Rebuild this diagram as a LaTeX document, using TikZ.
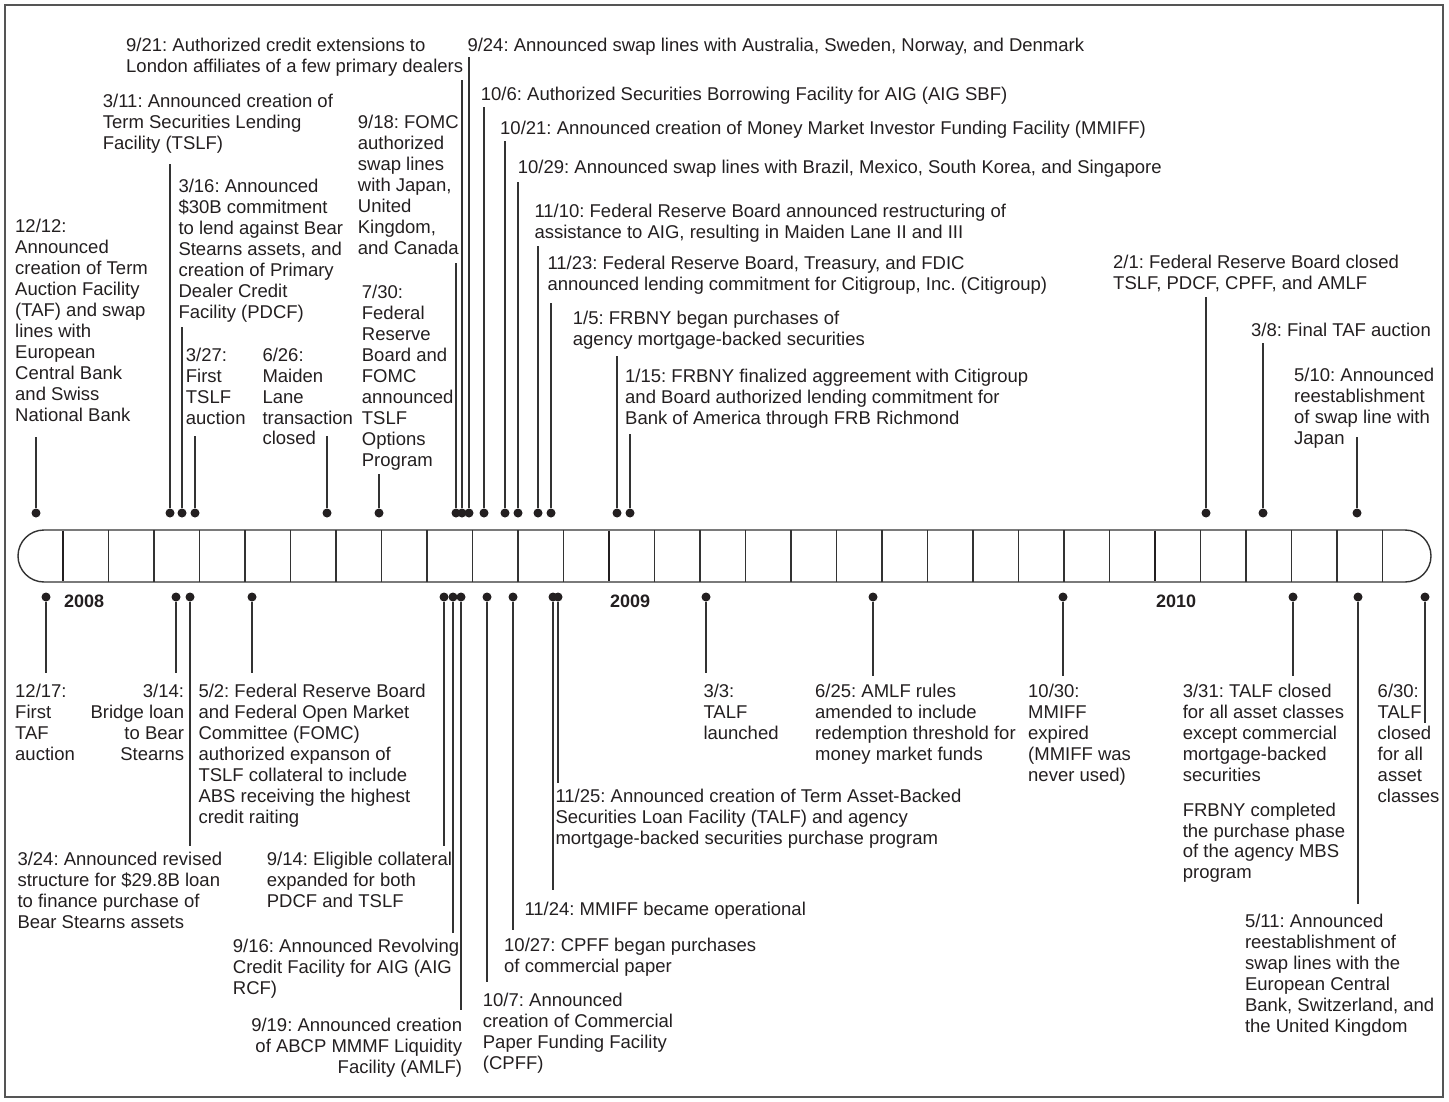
\documentclass[tikz,border=0pt]{standalone}
\usepackage{fontspec}
\setmainfont{Liberation Sans}
\frenchspacing
\definecolor{ink}{HTML}{231F20}
\definecolor{lin}{HTML}{333333}
\definecolor{frm}{HTML}{555555}
\newcommand\evfont{\fontsize{18.5}{20.9}\selectfont\frenchspacing}
\newcommand\topev[3]{\node[dot] (d#1) at (#2,513) {}; \coordinate (e#1) at (#2,#3); \draw[conn] (d#1) -- (e#1);}
\newcommand\botev[3]{\node[dot] (d#1) at (#2,597) {}; \coordinate (e#1) at (#2,#3); \draw[conn] (d#1) -- (e#1);}
\begin{document}
\begin{tikzpicture}[x=1pt,y=-1pt,
  ev/.style={font=\evfont, text=ink, align=left, inner sep=0pt, anchor=north west, execute at begin node={\rule{0pt}{14pt}}},
  evr/.style={ev, align=right, anchor=north east},
  dot/.style={circle, fill=ink, draw=none, minimum size=9pt, inner sep=0pt},
  conn/.style={draw=lin, line width=1.3pt},
  bar/.style={draw=lin, line width=1.4pt},
  tick/.style={draw=lin, line width=1.2pt},
  yeartick/.style={draw=ink, line width=2.6pt},
  yearlab/.style={font=\fontsize{18}{20}\selectfont\bfseries, text=ink, inner sep=0pt, anchor=base west}]
\useasboundingbox (0,0) rectangle (1449,1102);
\draw[draw=frm, line width=1.3pt] (5,5) rectangle (1443,1097);

% timeline bar
\draw[bar] (44,530) -- (1405,530) arc[start angle=90,end angle=-90,radius=26pt] -- (44,582) arc[start angle=270,end angle=90,radius=26pt] -- cycle;
\foreach \k in {1,...,11,13,14,...,23,25,26,27,28,29} {
  \draw[tick] ({63+\k*45.5},530) -- ({63+\k*45.5},582);
}
\foreach \k in {0,12,24} {
  \draw[yeartick] ({63+\k*45.5},530.7) -- ({63+\k*45.5},581.3);
}
\node[yearlab] (y2008) at (64,607.3) {2008};
\node[yearlab] (y2009) at (610,607.3) {2009};
\node[yearlab] (y2010) at (1156,607.3) {2010};

% top events
\topev{1212}{36}{437}
\topev{0311}{170}{164}
\topev{0316}{182}{327}
\topev{0327}{195}{436}
\topev{0626}{327}{436}
\topev{0730}{379}{474}
\topev{0918}{456}{263}
\topev{0921}{462}{80}
\topev{0924}{469}{57}
\topev{1006}{484}{107}
\topev{1021}{505}{141}
\topev{1029}{518}{182}
\topev{1110}{538}{246}
\topev{1123}{551}{303}
\topev{0105}{617}{356}
\topev{0115}{630}{434}
\topev{0201}{1206}{297}
\topev{0308}{1263}{343}
\topev{0510}{1357}{437}

\node[ev] (t1212) at (15,219.3) {12/12:\\Announced\\creation of Term\\Auction Facility\\(TAF) and swap\\lines with\\European\\Central Bank\\and Swiss\\National Bank};
\node[ev] (t0311) at (102.7,94.3) {3/11: Announced creation of\\Term Securities Lending\\Facility (TSLF)};
\node[ev] (t0316) at (178.3,179.3) {3/16: Announced\\\$30B commitment\\to lend against Bear\\Stearns assets, and\\creation of Primary\\Dealer Credit\\Facility (PDCF)};
\node[ev] (t0327) at (185.7,347.7) {3/27:\\First\\TSLF\\auction};
\node[ev] (t0626) at (262.3,347.7) {6/26:\\Maiden\\Lane\\transaction\\closed};
\node[ev] (t0730) at (361.7,285.3) {7/30:\\Federal\\Reserve\\Board and\\FOMC\\announced\\TSLF\\Options\\Program};
\node[ev] (t0918) at (357.7,115.3) {9/18: FOMC\\authorized\\swap lines\\with Japan,\\United\\Kingdom,\\and Canada};
\node[ev] (t0921) at (126,37.7) {9/21: Authorized credit extensions to\\London affiliates of a few primary dealers};
\node[ev] (t0924) at (467.3,37.7) {9/24: Announced swap lines with Australia, Sweden, Norway, and Denmark};
\node[ev] (t1006) at (480.7,86) {10/6: Authorized Securities Borrowing Facility for AIG (AIG SBF)};
\node[ev] (t1021) at (500,120.3) {10/21: Announced creation of Money Market Investor Funding Facility (MMIFF)};
\node[ev] (t1029) at (517.7,159.3) {10/29: Announced swap lines with Brazil, Mexico, South Korea, and Singapore};
\node[ev] (t1110) at (534.3,204.3) {11/10: Federal Reserve Board announced restructuring of\\assistance to AIG, resulting in Maiden Lane II and III};
\node[ev] (t1123) at (547.3,256) {11/23: Federal Reserve Board, Treasury, and FDIC\\announced lending commitment for Citigroup, Inc. (Citigroup)};
\node[ev] (t0105) at (572.7,311) {1/5: FRBNY began purchases of\\agency mortgage-backed securities};
\node[ev] (t0115) at (625,369.3) {1/15: FRBNY finalized aggreement with Citigroup\\and Board authorized lending commitment for\\Bank of America through FRB Richmond};
\node[ev] (t0201) at (1113,255.3) {2/1: Federal Reserve Board closed\\TSLF, PDCF, CPFF, and AMLF};
\node[ev] (t0308) at (1251,322) {3/8: Final TAF auction};
\node[ev] (t0510) at (1294,368.3) {5/10: Announced\\reestablishment\\of swap line with\\Japan};

% bottom events
\botev{1217}{46}{673}
\botev{0314}{176}{673}
\botev{0324}{190}{846}
\botev{0502}{252}{673}
\botev{0914}{444}{846}
\botev{0916}{453}{933}
\botev{0919}{461}{1010}
\botev{1007}{487}{982}
\botev{1027}{513}{930}
\botev{1124}{553}{890}
\botev{1125}{558}{783}
\botev{0303}{706}{673}
\botev{0625}{873}{676}
\botev{1030}{1063}{676}
\botev{0331}{1293}{676}
\botev{0511}{1358}{904}
\botev{0630}{1425}{723}

\node[ev] (b1217) at (15,684.3) {12/17:\\First\\TAF\\auction};
\node[evr] (b0314) at (184.3,684.3) {3/14:\\Bridge loan\\to Bear\\Stearns};
\node[ev] (b0502) at (198.3,684.3) {5/2: Federal Reserve Board\\and Federal Open Market\\Committee (FOMC)\\authorized expanson of\\TSLF collateral to include\\ABS receiving the highest\\credit raiting};
\node[ev] (b0324) at (17.3,851.7) {3/24: Announced revised\\structure for \$29.8B loan\\to finance purchase of\\Bear Stearns assets};
\node[ev] (b0914) at (266.7,851.7) {9/14: Eligible collateral\\expanded for both\\PDCF and TSLF};
\node[ev] (b0916) at (232.7,939.3) {9/16: Announced Revolving\\Credit Facility for AIG (AIG\\RCF)};
\node[evr] (b0919) at (462.3,1017.7) {9/19: Announced creation\\of ABCP MMMF Liquidity\\Facility (AMLF)};
\node[ev] (b1007) at (482.7,993.3) {10/7: Announced\\creation of Commercial\\Paper Funding Facility\\(CPFF)};
\node[ev] (b1027) at (504,937.7) {10/27: CPFF began purchases\\of commercial paper};
\node[ev] (b1124) at (524.3,901) {11/24: MMIFF became operational};
\node[ev] (b1125) at (555.3,789.3) {11/25: Announced creation of Term Asset-Backed\\Securities Loan Facility (TALF) and agency\\mortgage-backed securities purchase program};
\node[ev] (b0303) at (703.3,684.3) {3/3:\\TALF\\launched};
\node[ev] (b0625) at (815,684.3) {6/25: AMLF rules\\amended to include\\redemption threshold for\\money market funds};
\node[ev] (b1030) at (1028,684) {10/30:\\MMIFF\\expired\\(MMIFF was\\never used)};
\node[ev] (b0331) at (1182.6,684) {3/31: TALF closed\\for all asset classes\\except commercial\\mortgage-backed\\securities\\[14pt]FRBNY completed\\the purchase phase\\of the agency MBS\\program};
\node[ev] (b0511) at (1244.8,914.3) {5/11: Announced\\reestablishment of\\swap lines with the\\European Central\\Bank, Switzerland, and\\the United Kingdom};
\node[ev] (b0630) at (1377.5,684) {6/30:\\TALF\\closed\\for all\\asset\\classes};
\end{tikzpicture}
\end{document}
